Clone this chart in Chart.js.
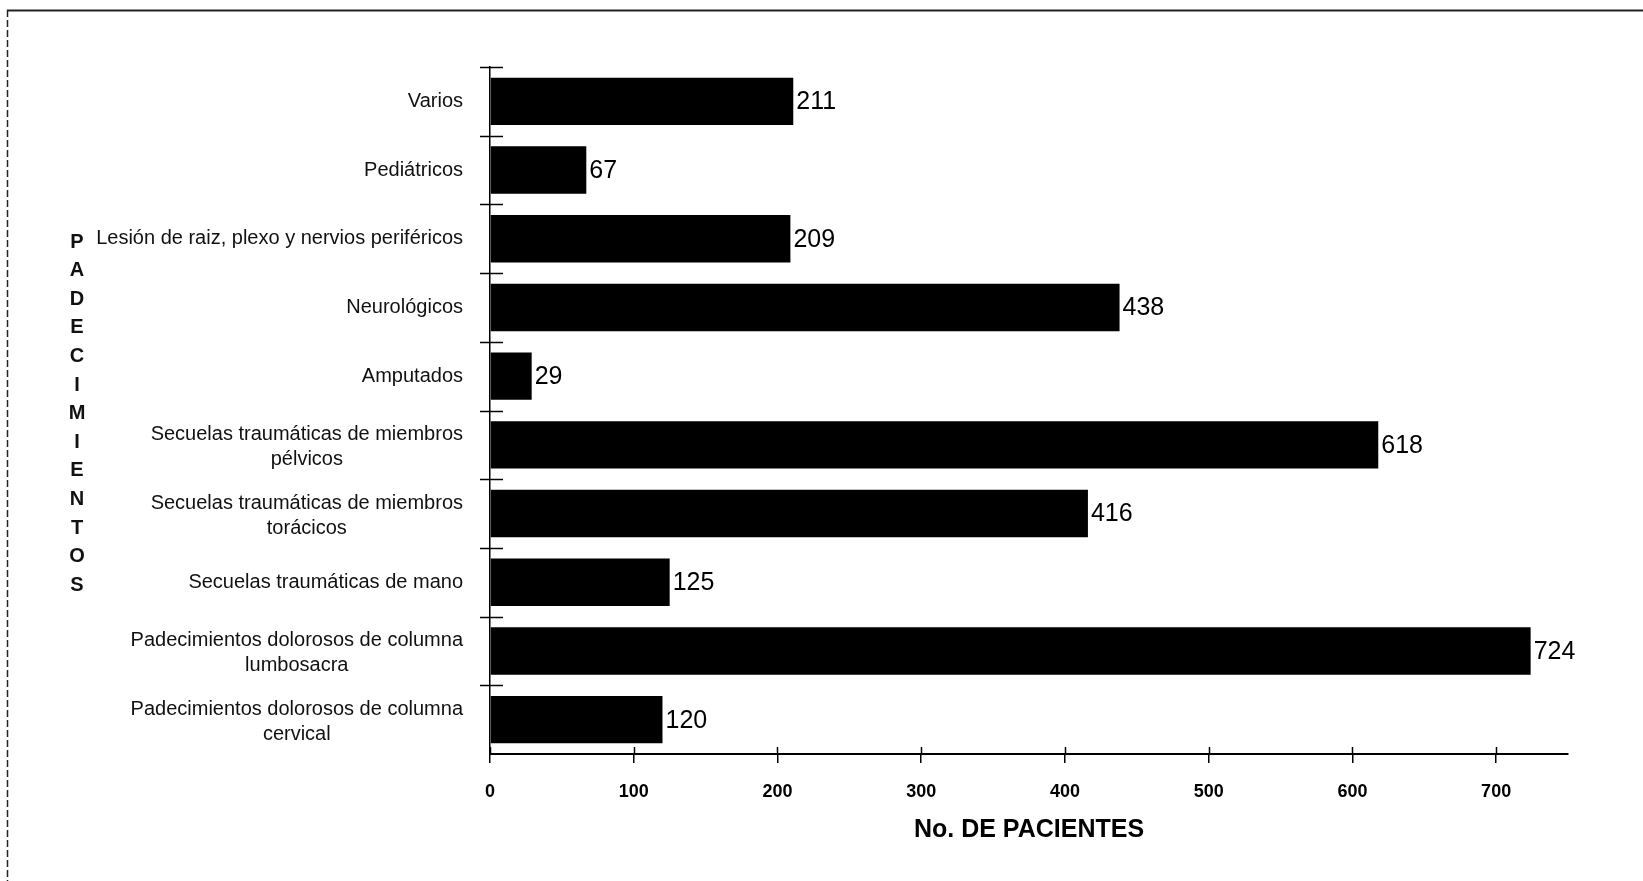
<!DOCTYPE html>
<html>
<head>
<meta charset="utf-8">
<script src="https://cdn.jsdelivr.net/npm/chart.js@4.4.1/dist/chart.umd.min.js"></script>
<style>
  html, body { margin: 0; padding: 0; background: #fff; }
  #wrap { width: 1643px; height: 881px; }
</style>
</head>
<body>
<div id="wrap"><canvas id="chart" width="1643" height="881"></canvas></div>
<script>
// data
const categories = [
  ['Varios'],
  ['Pediátricos'],
  ['Lesión de raiz, plexo y nervios periféricos'],
  ['Neurológicos'],
  ['Amputados'],
  ['Secuelas traumáticas de miembros', 'pélvicos'],
  ['Secuelas traumáticas de miembros', 'torácicos'],
  ['Secuelas traumáticas de mano'],
  ['Padecimientos dolorosos de columna', 'lumbosacra'],
  ['Padecimientos dolorosos de columna', 'cervical']
];
const patients = [211, 67, 209, 438, 29, 618, 416, 125, 724, 120];
const xTicks = [0, 100, 200, 300, 400, 500, 600, 700];
const xTitle = 'No. DE PACIENTES';
const yTitle = 'PADECIMIENTOS';

const FONT = "'Liberation Sans', Arial, sans-serif";

// frame, crosses on the y axis, labels and values
const decor = {
  id: 'decor',
  beforeDraw(chart) {
    const ctx = chart.ctx;
    ctx.save();
    ctx.strokeStyle = '#222';
    ctx.lineWidth = 2;
    ctx.beginPath();
    ctx.moveTo(7, 10.5);
    ctx.lineTo(1643, 10.5);
    ctx.stroke();
    ctx.lineWidth = 1.5;
    ctx.setLineDash([7, 3]);
    ctx.beginPath();
    ctx.moveTo(7.5, 10);
    ctx.lineTo(7.5, 881);
    ctx.stroke();
    ctx.restore();
  },
  afterDraw(chart) {
    const ctx = chart.ctx;
    const y = chart.scales.y;
    const x = chart.scales.x;
    const ax = chart.chartArea.left;
    ctx.save();
    ctx.strokeStyle = '#000';
    ctx.lineWidth = 1.5;

    // crosses at category boundaries
    for (let i = 0; i < categories.length; i++) {
      const py = Math.round(y.getPixelForValue(i - 0.5)) + 0.5;
      ctx.beginPath();
      ctx.moveTo(ax - 10, py);
      ctx.lineTo(ax + 13, py);
      ctx.stroke();
    }
    // small upward ticks on x axis
    xTicks.forEach(v => {
      const px = Math.round(x.getPixelForValue(v)) + 0.5;
      ctx.beginPath();
      ctx.moveTo(px, chart.chartArea.bottom - 7);
      ctx.lineTo(px, chart.chartArea.bottom);
      ctx.stroke();
    });

    // category labels: block right aligned, lines centred
    ctx.fillStyle = '#111';
    ctx.font = '20px ' + FONT;
    ctx.textBaseline = 'middle';
    ctx.textAlign = 'center';
    const right = 463;
    categories.forEach((lines, i) => {
      const cy = y.getPixelForValue(i);
      const widest = Math.max(...lines.map(l => ctx.measureText(l).width));
      const cx = right - widest / 2;
      const lh = 25;
      const top = cy - (lines.length - 1) * lh / 2 + (lines.length > 1 ? 2 : 0);
      lines.forEach((l, k) => ctx.fillText(l, cx, top + k * lh));
    });

    // vertical stacked axis title
    ctx.font = 'bold 20px ' + FONT;
    yTitle.split('').forEach((ch, k) => {
      ctx.fillText(ch, 77, 242 + k * 28.6);
    });

    // value labels
    ctx.font = '25px ' + FONT;
    ctx.textAlign = 'left';
    ctx.fillStyle = '#000';
    chart.getDatasetMeta(0).data.forEach((bar, i) => {
      ctx.fillText(String(patients[i]), bar.x + 3, bar.y + 1);
    });
    ctx.restore();
  }
};

new Chart(document.getElementById('chart'), {
  type: 'bar',
  data: {
    labels: categories,
    datasets: [{
      data: patients,
      backgroundColor: '#000',
      borderWidth: 0,
      barPercentage: 0.69,
      categoryPercentage: 1
    }]
  },
  options: {
    indexAxis: 'y',
    responsive: false,
    animation: false,
    layout: { padding: { top: 67, right: 75, left: 0, bottom: 0 } },
    plugins: { legend: { display: false }, tooltip: { enabled: false } },
    scales: {
      y: {
        offset: true,
        grid: { display: false },
        border: { display: true, color: '#000', width: 1.5 },
        ticks: { display: false },
        afterFit(s) { s.width = 490; }
      },
      x: {
        min: 0,
        max: 750,
        afterBuildTicks(s) { s.ticks = xTicks.map(v => ({ value: v })); },
        grid: { drawOnChartArea: false, drawTicks: true, tickLength: 9, color: '#000', lineWidth: 1.5 },
        border: { display: true, color: '#000', width: 2 },
        ticks: { color: '#000', padding: 18, maxRotation: 0, font: { family: FONT, size: 18, weight: 'bold' } },
        title: {
          display: true,
          text: xTitle,
          color: '#000',
          padding: { top: 0, bottom: 36 },
          font: { family: FONT, size: 25, weight: 'bold' }
        },
        afterFit(s) { s.height = 127; }
      }
    }
  },
  plugins: [decor]
});
</script>
</body>
</html>
